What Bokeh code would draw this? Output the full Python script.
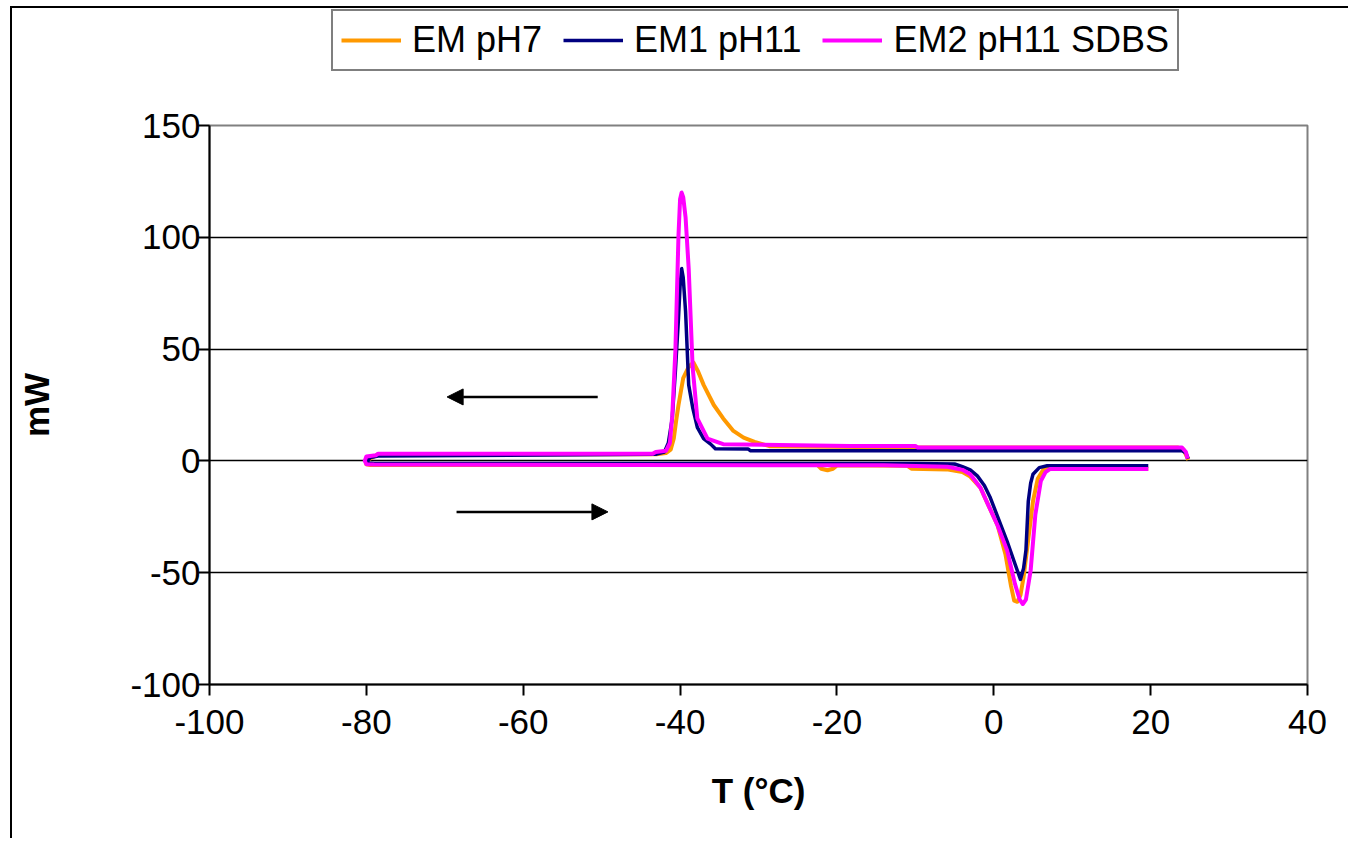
from bokeh.plotting import figure
from bokeh.layouts import column
from bokeh.models import Range1d, FixedTicker, Legend, LegendItem, Arrow, NormalHead
from bokeh.embed import file_html
from bokeh.resources import INLINE

# ---------------- data ----------------
series_names = ["EM pH7", "EM1 pH11", "EM2 pH11 SDBS"]
series_colors = ["#FF9900", "#000080", "#FF00FF"]

# EM pH7 : cooling 25 -> -80, then heating -80 -> 20
em7_t = [24.8, 24.2, 23.5, -10.0, -28.5, -29.5, -30.5, -31.9, -33.2, -34.5, -35.7,
         -37.0, -37.7, -38.3, -38.9, -39.6, -40.2, -40.5, -40.8, -41.2, -41.8, -43.0,
         -78.5, -79.0, -79.8,
         -80.0, -79.5, -22.5, -22.0, -21.2, -20.5, -20.0, -11.0, -10.5, -6.0, -4.0,
         -3.0, -1.7, -0.8, 0.5, 1.5, 2.2, 2.6, 3.0, 3.4, 3.8, 4.4, 5.0, 5.6, 6.3,
         7.0, 19.7]
em7_mw = [0.5, 5.0, 6.0, 6.0, 6.5, 7.5, 8.5, 10.4, 13.4, 19.0, 25.0,
          34.0, 40.0, 44.0, 42.0, 37.0, 25.0, 18.0, 10.0, 5.0, 3.5, 3.0,
          3.0, 2.0, 0.5,
          -1.5, -1.8, -1.8, -3.5, -4.2, -3.5, -2.0, -2.2, -3.5, -3.8, -5.0,
          -7.0, -12.0, -19.0, -29.0, -42.0, -56.0, -62.5, -63.0, -60.0, -52.0,
          -35.0, -18.0, -8.0, -4.0, -3.5, -3.5]

# EM1 pH11
em1_t = [24.8, 24.5, 24.0, -31.0, -31.3, -35.5, -36.1, -37.0, -37.8, -38.4,
         -38.9, -39.3, -39.6, -39.8, -40.0, -40.2, -40.6, -41.0, -41.5, -42.0,
         -43.0, -78.5, -79.5,
         -80.0, -79.0, -10.0, -5.0, -4.0, -3.0, -2.1, -1.2, -0.5, 0.5, 1.7, 3.0, 3.4,
         3.8, 4.1, 4.4, 4.7, 5.0, 5.8, 6.8, 19.7]
em1_mw = [1.0, 3.5, 4.5, 4.5, 5.3, 5.4, 7.5, 10.0, 15.0, 24.0,
          34.0, 67.0, 82.0, 86.0, 78.0, 64.0, 40.0, 19.0, 8.0, 4.0,
          3.0, 2.2, 1.5,
          -0.8, -1.2, -1.2, -1.4, -2.6, -4.0, -6.7, -11.0, -16.0, -25.0, -36.0,
          -49.0, -53.0, -48.0, -40.0, -18.0, -10.0, -6.0, -3.0, -2.2, -2.2]

# EM2 pH11 SDBS
em2_t = [24.7, 24.5, 24.0, -9.7, -10.0, -18.3, -34.5, -36.5, -37.8, -38.4,
         -38.9, -39.3, -39.6, -39.8, -40.0, -40.2, -40.6, -41.0, -41.3, -41.8,
         -43.1, -43.5, -78.5, -78.8, -80.0,
         -80.2, -80.0, -79.0, -14.0, -5.9, -4.0, -3.0, -1.7, -0.8, 0.5, 1.7, 2.7,
         3.3, 3.7, 4.1, 4.7, 5.3, 6.0, 6.6, 7.2, 19.7]
em2_mw = [1.0, 4.0, 6.0, 6.0, 6.7, 6.7, 7.5, 10.0, 19.0, 42.0,
          86.0, 109.0, 118.0, 120.0, 117.0, 101.0, 49.0, 20.0, 8.0, 4.5,
          4.0, 3.2, 3.2, 2.5, 2.0,
          0.0, -1.5, -1.6, -2.0, -2.6, -4.0, -6.0, -12.0, -19.0, -29.0, -40.0,
          -55.0, -62.0, -64.0, -62.0, -49.0, -24.0, -9.0, -5.0, -3.6, -3.6]

x_ticks = [-100, -80, -60, -40, -20, 0, 20, 40]
y_ticks = [-100, -50, 0, 50, 100, 150]
y_grid = [-50, 0, 50, 100]

# direction arrows (annotations): x_start, x_end, y
arrow_cool = [-50.5, -69.7, 28.6]
arrow_heat = [-68.5, -49.2, -22.8]

series = [(em7_t, em7_mw, series_colors[0], 4),
          (em1_t, em1_mw, series_colors[1], 3.5),
          (em2_t, em2_mw, series_colors[2], 4)]

# ---------------- main figure ----------------
p = figure(width=1336, height=743, output_backend="svg", toolbar_location=None,
           x_range=Range1d(-100, 40), y_range=Range1d(-100, 150),
           min_border_left=197, min_border_right=41,
           min_border_top=30, min_border_bottom=154)

p.background_fill_color = "white"
p.border_fill_color = "white"
p.outline_line_color = "#808080"
p.outline_line_width = 2

p.xgrid.visible = False
p.ygrid.ticker = FixedTicker(ticks=y_grid)
p.ygrid.grid_line_color = "black"
p.ygrid.grid_line_width = 1.5

for ax in (p.xaxis[0], p.yaxis[0]):
    ax.axis_line_color = "black"
    ax.axis_line_width = 2
    ax.major_tick_line_color = "black"
    ax.major_tick_line_width = 2
    ax.major_tick_in = 0
    ax.major_tick_out = 11
    ax.minor_tick_line_color = None
    ax.major_label_text_font = "Liberation Sans"
    ax.major_label_text_font_size = "35px"
    ax.major_label_text_color = "black"
    ax.axis_label_text_font = "Liberation Sans"
    ax.axis_label_text_font_size = "35px"
    ax.axis_label_text_font_style = "bold"
    ax.axis_label_text_color = "black"

p.xaxis.ticker = FixedTicker(ticks=x_ticks)
p.yaxis.ticker = FixedTicker(ticks=y_ticks)
p.xaxis.major_label_overrides = {v: str(v) for v in x_ticks}
p.yaxis.major_label_overrides = {v: str(v) for v in y_ticks}
p.xaxis.axis_label = "T (°C)"
p.yaxis.axis_label = "mW"
p.xaxis.major_label_standoff = 14
p.yaxis.major_label_standoff = -2
p.xaxis.axis_label_standoff = 34
p.yaxis.axis_label_standoff = 71

for t, mw, c, w in series:
    p.line(t, mw, line_color=c, line_width=w, line_join="round")

for (xs, xe, yy) in (arrow_cool, arrow_heat):
    p.add_layout(Arrow(x_start=xs, y_start=yy, x_end=xe, y_end=yy,
                       line_color="black", line_width=2.5,
                       end=NormalHead(size=16, fill_color="black", line_color="black")))

# ---------------- legend strip (above the plot area) ----------------
lf = figure(width=1336, height=87, output_backend="svg", toolbar_location=None,
            x_axis_type=None, y_axis_type=None,
            x_range=Range1d(-100, 40), y_range=Range1d(1000, 1001),
            min_border_left=0, min_border_right=0, min_border_top=0, min_border_bottom=0)
lf.outline_line_color = None
lf.grid.visible = False
lf.background_fill_color = "white"
lf.border_fill_color = "white"

leg_renderers = []
for t, mw, c, w in series:
    leg_renderers.append(lf.line(t, mw, line_color=c, line_width=w))

legend = Legend(items=[LegendItem(label=n, renderers=[r]) for n, r in zip(series_names, leg_renderers)],
                orientation="horizontal", location=(122, 24))
legend.label_text_font = "Liberation Sans"
legend.label_text_font_size = "36px"
legend.label_text_color = "black"
legend.glyph_width = 60
legend.label_standoff = 11
legend.spacing = 21
legend.padding = 8
legend.margin = 0
legend.border_line_color = "black"
legend.border_line_width = 2
legend.background_fill_color = "white"
legend.background_fill_alpha = 1
lf.add_layout(legend, "center")

layout = column(lf, p, spacing=0)
layout.styles = {"border-left": "2px solid black", "border-top": "2px solid black",
                 "margin-left": "10px", "margin-top": "6px"}

open("out.html", "w").write(file_html(layout, INLINE))
